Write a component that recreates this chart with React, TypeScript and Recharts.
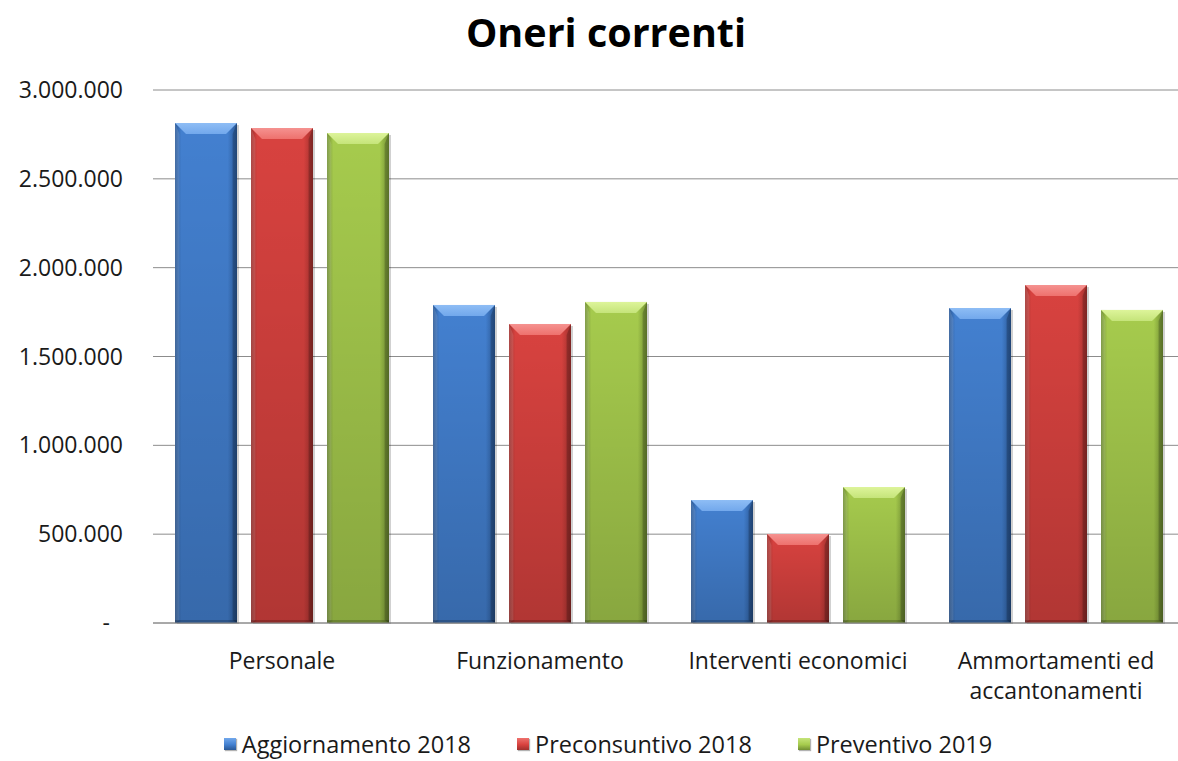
import React from 'react';
import { BarChart, Bar, XAxis, YAxis, CartesianGrid } from 'recharts';

const categories = ['Personale', 'Funzionamento', 'Interventi economici', 'Ammortamenti ed accantonamenti'];
const aggiornamento2018 = [2814000, 1790000, 692000, 1773000];
const preconsuntivo2018 = [2786000, 1683000, 501000, 1902000];
const preventivo2019 = [2758000, 1807000, 765000, 1762000];
const seriesNames = ['Aggiornamento 2018', 'Preconsuntivo 2018', 'Preventivo 2019'];
const yTicks = [0, 500000, 1000000, 1500000, 2000000, 2500000, 3000000];
const title = 'Oneri correnti';

const data = categories.map((c, i) => ({
  name: c,
  agg: aggiornamento2018[i],
  pre: preconsuntivo2018[i],
  prev: preventivo2019[i],
}));

const palette = [
  { key: 'agg', main: '#4380D0', dark: '#2A5896', light: '#72A8EC', top: '#8EBDF5' },
  { key: 'pre', main: '#D8423F', dark: '#A0302D', light: '#EE716D', top: '#F59290' },
  { key: 'prev', main: '#A6CB4D', dark: '#718F33', light: '#C5E47A', top: '#DDF49A' },
];

const FONT = "'Open Sans', sans-serif";

const fmt = (v: number) => {
  if (v === 0) return '-';
  const s = String(Math.round(v));
  return s.replace(/\B(?=(\d{3})+(?!\d))/g, '.');
};

const makeShape = (c: any) => (props: any) => {
  const { x, y, width: w, height: h, index } = props;
  if (!h || h <= 0) return <g />;
  const id = `${c.key}-${index}`;
  const b = Math.min(11, w / 5, h / 2);
  return (
    <g>
      <defs>
        <linearGradient id={`h-${id}`} x1="0" y1="0" x2="1" y2="0">
          <stop offset="0" stopColor={c.dark} />
          <stop offset="0.1" stopColor={c.main} />
          <stop offset="0.85" stopColor={c.main} />
          <stop offset="1" stopColor={c.dark} />
        </linearGradient>
        <linearGradient id={`v-${id}`} x1="0" y1="0" x2="0" y2="1">
          <stop offset="0" stopColor="#000" stopOpacity="0" />
          <stop offset="1" stopColor="#000" stopOpacity="0.18" />
        </linearGradient>
        <linearGradient id={`t-${id}`} x1="0" y1="0" x2="0" y2="1">
          <stop offset="0" stopColor={c.top} />
          <stop offset="1" stopColor={c.light} />
        </linearGradient>
      </defs>
      <rect x={x + 2} y={y + 2} width={w} height={h - 1} fill="rgba(0,0,0,0.18)" />
      <rect x={x} y={y} width={w} height={h} fill={`url(#h-${id})`} />
      <rect x={x} y={y} width={w} height={h} fill={`url(#v-${id})`} />
      <polygon
        points={`${x},${y} ${x + w},${y} ${x + w - b},${y + b} ${x + b},${y + b}`}
        fill={`url(#t-${id})`}
      />
      <polygon
        points={`${x},${y} ${x + b * 0.4},${y + b} ${x + b * 0.4},${y + h - 3} ${x},${y + h}`}
        fill="rgba(255,255,255,0.12)"
      />
      <polygon
        points={`${x + w},${y} ${x + w - b * 0.4},${y + b} ${x + w - b * 0.4},${y + h - 3} ${x + w},${y + h}`}
        fill="rgba(0,0,0,0.2)"
      />
      <rect x={x} y={y + h - 3} width={w} height={3} fill="rgba(0,0,0,0.2)" />
    </g>
  );
};

const XTick = (props: any) => {
  const { x, y, payload } = props;
  const words = String(payload.value).split(' ');
  const lines: string[] = [];
  let cur = '';
  words.forEach((wd) => {
    const cand = cur ? cur + ' ' + wd : wd;
    if (cand.length > 20 && cur) {
      lines.push(cur);
      cur = wd;
    } else cur = cand;
  });
  if (cur) lines.push(cur);
  return (
    <g transform={`translate(${x},${y})`}>
      <text textAnchor="middle" fill="#1a1a1a" fontSize={23} fontFamily={FONT}>
        {lines.map((l, i) => (
          <tspan key={i} x={0} dy={i === 0 ? 44 : 30}>
            {l}
          </tspan>
        ))}
      </text>
    </g>
  );
};

const YTick = (props: any) => {
  const { x, y, payload } = props;
  const isZero = payload.value === 0;
  return (
    <text
      x={x}
      y={y}
      dy={8}
      dx={isZero ? -13 : 0}
      textAnchor="end"
      fill="#1a1a1a"
      fontSize={23}
      fontFamily={FONT}
    >
      {fmt(payload.value)}
    </text>
  );
};

export default function App() {
  return (
    <div
      style={{
        position: 'absolute',
        left: 0,
        top: 0,
        width: 1178,
        height: 761,
        background: '#fff',
        overflow: 'hidden',
      }}
    >
      <div
        style={{
          position: 'absolute',
          top: 5,
          left: 17,
          width: 1178,
          textAlign: 'center',
          fontFamily: FONT,
          fontWeight: 700,
          fontSize: 39.5,
          color: '#000',
        }}
      >
        {title}
      </div>
      <BarChart
        width={1185}
        height={761}
        data={data}
        margin={{ top: 90, right: 0, left: 0, bottom: 108 }}
        barSize={62}
        barGap={14}
      >
        <CartesianGrid vertical={false} stroke="#8c8c8c" strokeWidth={1} />
        <XAxis
          dataKey="name"
          height={30}
          axisLine={{ stroke: '#8c8c8c' }}
          tickLine={false}
          tickSize={0}
          tick={<XTick />}
          interval={0}
        />
        <YAxis
          width={153}
          domain={[0, 3000000]}
          ticks={yTicks}
          axisLine={false}
          tickLine={false}
          tickSize={0}
          tickMargin={30}
          tick={<YTick />}
        />
        {palette.map((c) => (
          <Bar key={c.key} dataKey={c.key} name={c.key} fill={c.main} isAnimationActive={false} shape={makeShape(c)} />
        ))}
      </BarChart>
      <div
        style={{
          position: 'absolute',
          top: 728,
          left: 19,
          width: 1178,
          display: 'flex',
          justifyContent: 'center',
          fontFamily: FONT,
          fontSize: 23.5,
          color: '#1a1a1a',
          gap: 46,
        }}
      >
        {seriesNames.map((n, i) => (
          <div key={n} style={{ display: 'flex', alignItems: 'center' }}>
            <div
              style={{
                width: 12,
                height: 12,
                marginRight: 6,
                background: `linear-gradient(${palette[i].light}, ${palette[i].main} 55%, ${palette[i].dark})`,
                boxShadow: '1px 1px 1px rgba(0,0,0,0.3)',
              }}
            />
            <span>{n}</span>
          </div>
        ))}
      </div>
    </div>
  );
}
